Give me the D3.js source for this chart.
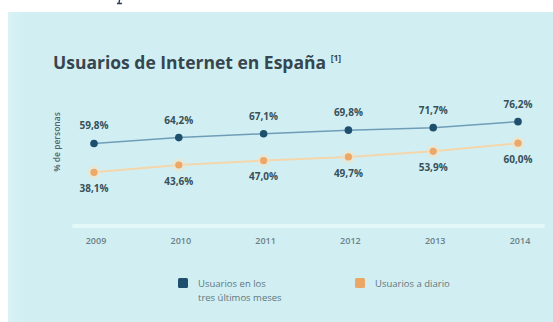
<!DOCTYPE html>
<html>
<head>
<meta charset="utf-8">
<script src="https://cdn.jsdelivr.net/npm/d3@7"></script>
<style>
  html, body { margin: 0; padding: 0; background: #ffffff; }
  svg { display: block; }
</style>
</head>
<body>
<svg id="chart" width="553" height="322"></svg>
<script>
// Data: Internet users in Spain, % of people
const years = ["2009", "2010", "2011", "2012", "2013", "2014"];
const lastThreeMonths = [59.8, 64.2, 67.1, 69.8, 71.7, 76.2];
const daily = [38.1, 43.6, 47.0, 49.7, 53.9, 60.0];
const seriesNames = ["Usuarios en los|tres últimos meses", "Usuarios a diario"];

const W = 553, H = 322;
const svg = d3.select("#chart");
const fmt = v => d3.format(".1f")(v).replace(".", ",") + "%";

// panel background
const defs = svg.append("defs");
const grad = defs.append("linearGradient").attr("id", "panelGrad").attr("x1", 0).attr("x2", 1);
grad.append("stop").attr("offset", "0%").attr("stop-color", "#d9f2f5");
grad.append("stop").attr("offset", "3%").attr("stop-color", "#d1eff3");
grad.append("stop").attr("offset", "100%").attr("stop-color", "#d1eff3");
svg.append("rect").attr("x", 8).attr("y", 12).attr("width", W - 8).attr("height", H - 12)
  .attr("fill", "url(#panelGrad)");

// tail of the page heading above the panel
svg.append("path").attr("d", "M119.5,0 L119,3.2 M117,3.5 L122,3.5")
  .attr("stroke", "#2b3b5c").attr("stroke-width", 1.4).attr("fill", "none");

// title
const title = svg.append("text").attr("x", 53).attr("y", 69)
  .attr("font-family", "Open Sans").attr("font-weight", 700).attr("font-size", 17.5)
  .attr("fill", "#36464e").text("Usuarios de Internet en España ");
title.append("tspan").attr("font-size", 8.5).attr("dy", -8).text("[1]");

// scales
const x = d3.scalePoint().domain(years).range([94, 518]);
const y = d3.scaleLinear().domain([0, 100]).range([223, 90]);

// baseline axis
svg.append("line").attr("x1", 74).attr("x2", 543).attr("y1", 226).attr("y2", 226)
  .attr("stroke", "#e4f7f9").attr("stroke-width", 4).attr("stroke-linecap", "round");

const axis = d3.axisBottom(x).tickSize(0).tickPadding(0);
const gAxis = svg.append("g").attr("transform", "translate(1.5,241)").call(axis);
gAxis.select(".domain").remove();
gAxis.selectAll("text").attr("font-family", "Open Sans").attr("font-weight", 600)
  .attr("font-size", 9).attr("fill", "#6b8087").attr("dy", "0.35em");

// y-axis caption
svg.append("text").attr("transform", "translate(60,142) rotate(-90)")
  .attr("text-anchor", "middle").attr("font-family", "Open Sans").attr("font-weight", 600)
  .attr("font-size", 8.5).attr("fill", "#4e636b").text("% de personas");

const line = d3.line().x((d, i) => x(years[i])).y(d => y(d));

// daily users
svg.append("path").datum(daily).attr("d", line).attr("fill", "none")
  .attr("stroke", "#f5d6ab").attr("stroke-width", 2);
svg.selectAll(".halo").data(daily).enter().append("circle")
  .attr("cx", (d, i) => x(years[i])).attr("cy", d => y(d)).attr("r", 6.5)
  .attr("fill", "#f6e0c0").attr("opacity", 0.55);
svg.selectAll(".dot-d").data(daily).enter().append("circle")
  .attr("cx", (d, i) => x(years[i])).attr("cy", d => y(d)).attr("r", 3.6)
  .attr("fill", "#eca868");

// users in the last three months
svg.append("path").datum(lastThreeMonths).attr("d", line).attr("fill", "none")
  .attr("stroke", "#6f9db7").attr("stroke-width", 1.5);
svg.selectAll(".dot-m").data(lastThreeMonths).enter().append("circle")
  .attr("cx", (d, i) => x(years[i])).attr("cy", d => y(d)).attr("r", 3.8)
  .attr("fill", "#1e4f6d");

// value labels
const labelStyle = sel => sel.attr("text-anchor", "middle").attr("font-family", "Open Sans")
  .attr("font-weight", 700).attr("font-size", 10).attr("fill", "#38505a");
svg.selectAll(".lab-m").data(lastThreeMonths).enter().append("text")
  .attr("x", (d, i) => x(years[i])).attr("y", d => y(d) - 14).text(fmt).call(labelStyle);
svg.selectAll(".lab-d").data(daily).enter().append("text")
  .attr("x", (d, i) => x(years[i])).attr("y", d => y(d) + 20).text(fmt).call(labelStyle);

// legend
const legendColors = ["#1e4f6d", "#eba765"];
const legendX = [178, 355];
seriesNames.forEach((name, i) => {
  const g = svg.append("g").attr("transform", `translate(${legendX[i]},278)`);
  g.append("rect").attr("width", 10).attr("height", 10).attr("rx", 1.5).attr("fill", legendColors[i]);
  const t = g.append("text").attr("x", 20).attr("y", 8.5).attr("font-family", "Open Sans")
    .attr("font-size", 9.5).attr("fill", "#5f767e");
  name.split("|").forEach((part, j) => {
    t.append("tspan").attr("x", 20).attr("dy", j === 0 ? 0 : 14).text(part);
  });
});
</script>
</body>
</html>
